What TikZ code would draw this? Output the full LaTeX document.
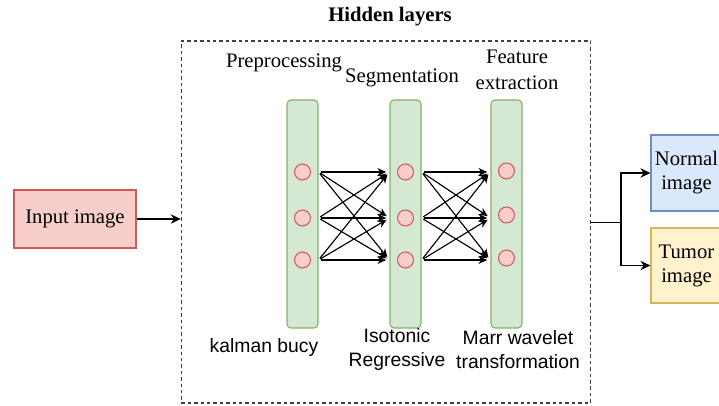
\documentclass[tikz,border=0pt]{standalone}
\usepackage{fontspec}
\setmainfont{Liberation Serif}
\setsansfont{Liberation Sans}
\usetikzlibrary{arrows.meta,positioning}
\definecolor{redfill}{HTML}{F8CECC}
\definecolor{redline}{HTML}{D05A56}
\definecolor{greenfill}{HTML}{D5E8D4}
\definecolor{greenline}{HTML}{82B366}
\definecolor{bluefill}{HTML}{DAE8FC}
\definecolor{blueline}{HTML}{6C8EBF}
\definecolor{yellowfill}{HTML}{FFF2CC}
\definecolor{yellowline}{HTML}{D6B656}
\tikzset{
      stagebox/.style={
        draw=#1line,
        fill=#1fill,
        line width=0.8pt,
        align=center,
        inner sep=2pt,
        font=\fontsize{15.5}{18}\selectfont
      },
      layerbar/.style={
        rounded corners=3pt,
        draw=greenline,
        fill=greenfill,
        line width=0.8pt,
        minimum width=23.25pt,
        minimum height=171pt,
        inner sep=0pt
      },
      neuron/.style={
        circle,
        draw=redline,
        fill=redfill,
        line width=0.8pt,
        minimum size=12pt,
        inner sep=0pt
      },
      toplabel/.style={
        align=center,
        inner sep=0pt,
        font=\fontsize{15.5}{19}\selectfont
      },
      methodlabel/.style={
        align=center,
        inner sep=0pt,
        font=\sffamily\fontsize{14.5}{18}\selectfont
      },
      netarrow/.style={
        -{Stealth[length=6.5pt,width=6pt]},
        line width=0.85pt,
        shorten >=2.5pt,
        shorten <=1.5pt
      },
      flowarrow/.style={
        -{Stealth[length=7.5pt,width=7pt]},
        line width=1.1pt
      }
    }
\begin{document}
\begin{tikzpicture}[x=0.75pt,y=-0.75pt]
    \useasboundingbox (0,0) rectangle (719,406);
    \clip (0,0) rectangle (719,406);
    % hidden layer frame
    \node[draw=black!75, dash pattern=on 2.6pt off 2.2pt, line width=0.85pt,
          minimum width=307pt, minimum height=271.5pt, inner sep=0pt] (hidbox) at (386,222) {};
    \node[toplabel, font=\bfseries\fontsize{15.5}{18}\selectfont] (hidtitle) at (390,17) {Hidden layers};
    % input and outputs
    \node[stagebox=red, minimum width=91.5pt, minimum height=43.5pt] (input) at (75,219) {Input image};
    \node[stagebox=blue, minimum width=53.25pt, minimum height=57pt] (normal) at (686.5,173) {Normal\\image};
    \node[stagebox=yellow, minimum width=53.25pt, minimum height=56.25pt] (tumor) at (686.5,265.5) {Tumor\\image};
    % layers
    \node[layerbar] (bar1) at (302.5,214) {};
    \node[layerbar] (bar2) at (405.5,214) {};
    \node[layerbar] (bar3) at (506.5,214) {};
    \foreach \k/\y in {1/172,2/218,3/260} {
      \node[neuron] (c1\k) at (302.5,\y) {};
      \node[neuron] (c2\k) at (405.5,\y) {};
    }
    \node[neuron] (c31) at (506.5,171) {};
    \node[neuron] (c32) at (506.5,215) {};
    \node[neuron] (c33) at (506.5,258) {};
    % labels
    \node[toplabel] (prelbl) at (284,63) {Preprocessing};
    \node[toplabel] (seglbl) at (402,78) {Segmentation};
    \node[toplabel] (featlbl) at (517,70) {Feature\\extraction};
    \node[methodlabel] (kallbl) at (264,348) {kalman bucy};
    \node[methodlabel] (isolbl) at (397,350) {Isotonic\\Regressive};
    \node[methodlabel] (marrlbl) at (518,350) {Marr wavelet\\transformation};
    % connections
    \foreach \i in {1,2,3} {
      \foreach \j in {1,2,3} {
        \draw[netarrow] (c1\i -| bar1.east) -- (c2\j -| bar2.west);
        \draw[netarrow] (c2\i -| bar2.east) -- (c2\j -| bar3.west);
      }
    }
    \draw[flowarrow] (input.east) -- (input.east -| hidbox.west);
    \coordinate (split) at (621,222.5);
    \draw[line width=1.1pt] (hidbox.east |- split) -- (split);
    \draw[flowarrow] (split) |- (normal.west);
    \draw[flowarrow] (split) |- (tumor.west);
    \end{tikzpicture}
\end{document}
